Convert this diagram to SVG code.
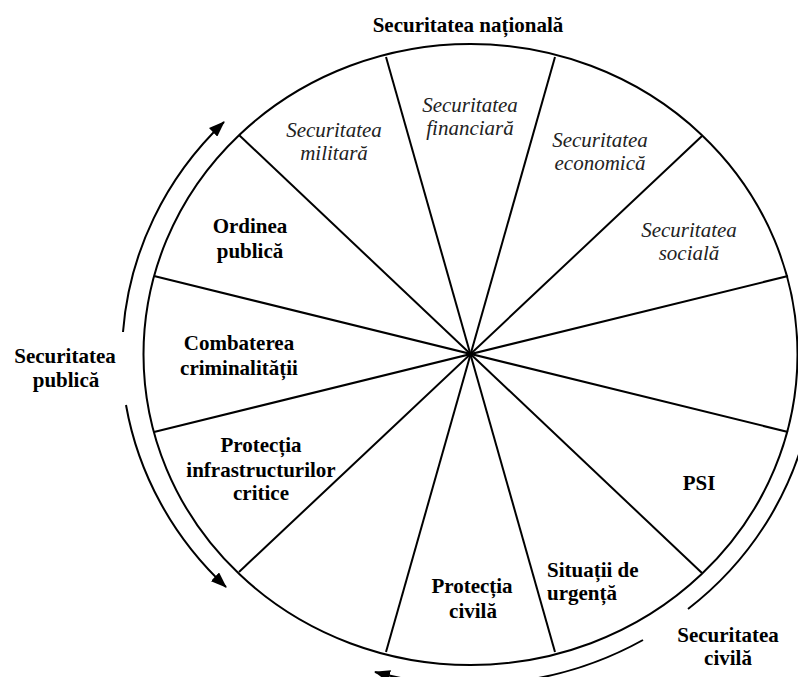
<svg xmlns="http://www.w3.org/2000/svg" width="798" height="677" viewBox="0 0 798 677">
<style>
.ln{stroke:#000;stroke-width:2;fill:none}
.b{font-family:"Liberation Serif","Times New Roman",serif;font-weight:bold;font-size:21px;fill:#000;text-anchor:middle}
.i{font-family:"Liberation Serif","Times New Roman",serif;font-style:italic;font-size:21px;fill:#222;text-anchor:middle}
</style>
<defs>
<marker id="ah" markerUnits="userSpaceOnUse" markerWidth="16" markerHeight="12" refX="15" refY="6" orient="auto-start-reverse">
<path d="M0,0 L16,6 L0,12 z" fill="#000"/>
</marker>
</defs>
<rect width="798" height="677" fill="#fff"/>
<g id="wheel">
<ellipse class="ln" cx="470.5" cy="354.5" rx="327" ry="310.5"/>
</g>
<g id="spokes">
<line class="ln" x1="386" y1="57" x2="555" y2="652"/>
<line class="ln" x1="555" y1="57" x2="386" y2="652"/>
<line class="ln" x1="239" y1="135" x2="702" y2="573"/>
<line class="ln" x1="702" y1="136" x2="239" y2="572"/>
<line class="ln" x1="154" y1="276" x2="788" y2="432"/>
<line class="ln" x1="788" y1="276" x2="154" y2="432"/>
</g>
<g id="connectors">
<path class="ln" d="M123,332 A347,331 0 0 1 224,122" marker-end="url(#ah)"/>
<path class="ln" d="M126,405 A347,331 0 0 0 226,587" marker-end="url(#ah)"/>
<path class="ln" d="M812,400 A345,329 0 0 1 688,609" marker-start="url(#ah)"/>
<path class="ln" d="M643,640 A345,329 0 0 1 375,672" marker-end="url(#ah)"/>
</g>
<g id="sec-nationala"><text class="b" x="468" y="32">Securitatea națională</text></g>
<g id="sec-publica"><text class="b" x="65" y="363">Securitatea</text><text class="b" x="66" y="387">publică</text></g>
<g id="sec-civila"><text class="b" x="728" y="642">Securitatea</text><text class="b" x="728" y="665">civilă</text></g>
<g id="militara"><text class="i" x="334" y="137">Securitatea</text><text class="i" x="334" y="160">militară</text></g>
<g id="financiara"><text class="i" x="470" y="112">Securitatea</text><text class="i" x="470" y="135">financiară</text></g>
<g id="economica"><text class="i" x="600" y="147">Securitatea</text><text class="i" x="600" y="170">economică</text></g>
<g id="sociala"><text class="i" x="689" y="237">Securitatea</text><text class="i" x="689" y="260">socială</text></g>
<g id="ordinea"><text class="b" x="250" y="233">Ordinea</text><text class="b" x="250" y="258">publică</text></g>
<g id="combaterea"><text class="b" x="239" y="350">Combaterea</text><text class="b" x="239" y="375">criminalității</text></g>
<g id="infrastructuri"><text class="b" x="261" y="452">Protecția</text><text class="b" x="261" y="477">infrastructurilor</text><text class="b" x="261" y="500">critice</text></g>
<g id="psi"><text class="b" x="699" y="490">PSI</text></g>
<g id="urgenta"><text class="b" x="547" y="577" style="text-anchor:start">Situații de</text><text class="b" x="547" y="600" style="text-anchor:start">urgență</text></g>
<g id="protectia-civila"><text class="b" x="472" y="593">Protecția</text><text class="b" x="473" y="618">civilă</text></g>
</svg>
